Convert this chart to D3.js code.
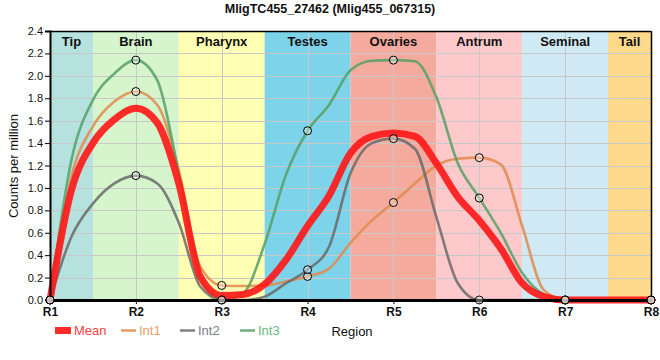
<!DOCTYPE html>
<html><head><meta charset="utf-8">
<script src="https://cdn.jsdelivr.net/npm/d3@7"></script>
<style>body{margin:0;background:#fff;}svg{display:block;font-family:"Liberation Sans",Arial,sans-serif;}</style>
</head><body>
<svg id="c" width="660" height="360"></svg>
<script>
// Data
const regions = ["R1","R2","R3","R4","R5","R6","R7","R8"];
const bands = ["Tip","Brain","Pharynx","Testes","Ovaries","Antrum","Seminal","Tail"];
const bandColors = ["#b5e2de","#d6f5cd","#ffffb4","#7dd3ea","#f4aa9c","#fdc9cb","#cfeaf4","#fdd98b"];
const yTicks = [0,0.2,0.4,0.6,0.8,1.0,1.2,1.4,1.6,1.8,2.0,2.2,2.4];
// curve positions (region index; readings between regions)
const positions = [0,0.25,0.5,0.75,1,1.25,1.5,1.75,2,2.25,2.5,2.75,3,3.25,3.5,3.75,4,4.25,4.5,4.75,5,5.25,5.5,5.75,6,6.5,7];
const int1 = [0,1.10,1.55,1.77,1.86,1.74,1.16,0.30,0.13,0.125,0.13,0.165,0.21,0.28,0.51,0.71,0.87,1.04,1.20,1.26,1.27,1.21,0.66,0.09,0,0,0];
const int2 = [0,0.565,0.86,1.04,1.11,1.04,0.69,0.12,0,0,0.03,0.15,0.27,0.475,1.13,1.40,1.44,1.35,0.74,0.15,0,0,0,0,0,0,0];
const int3 = [0,1.25,1.785,2.02,2.14,1.96,1.13,0.21,0,0.06,0.50,1.12,1.51,1.74,2.05,2.135,2.14,2.13,1.81,1.22,0.91,0.60,0.24,0.05,0,0,0];
const mean = [0,0.98,1.40,1.61,1.71,1.58,1.04,0.21,0.04,0.05,0.14,0.36,0.66,0.93,1.31,1.46,1.49,1.46,1.22,0.92,0.71,0.46,0.15,0.03,0,0,0];
const seriesNames = ["Int1","Int2","Int3","Mean"];
const seriesColors = {Int1:"#e08a4c",Int2:"#6a6a6a",Int3:"#56a066",Mean:"#ff1a1a"};

const svg = d3.select("#c");
const L=50,R=651,T=31,B=300;
const x = d3.scaleLinear().domain([0,regions.length-1]).range([L,R]);
const y = d3.scaleLinear().domain([0,2.4]).range([B,T]);

// bands
const bg = svg.append("g");
bands.forEach((b,i)=>{
  const x0 = Math.max(0,i-0.5), x1 = Math.min(regions.length-1,i+0.5);
  bg.append("rect").attr("x",x(x0)).attr("y",T).attr("width",x(x1)-x(x0)).attr("height",B-T).attr("fill",bandColors[i]);
});
// grid
const grid = svg.append("g").attr("stroke","#c8c8c8").attr("stroke-width",1);
yTicks.forEach(t=>grid.append("line").attr("x1",L).attr("x2",R).attr("y1",Math.round(y(t))+0.5).attr("y2",Math.round(y(t))+0.5));
regions.forEach((r,i)=>grid.append("line").attr("x1",Math.round(x(i))+0.5).attr("x2",Math.round(x(i))+0.5).attr("y1",T).attr("y2",B));
// band labels
bands.forEach((b,i)=>{
  const x0 = Math.max(0,i-0.5), x1 = Math.min(regions.length-1,i+0.5);
  svg.append("text").attr("x",(x(x0)+x(x1))/2).attr("y",46).attr("text-anchor","middle")
    .attr("font-size",13).attr("font-weight","bold").attr("fill","#111").text(b);
});
// lines
const data = {Int1:int1,Int2:int2,Int3:int3,Mean:mean};
const line = d3.line().x((d,i)=>x(positions[i])).y(d=>y(d)).curve(d3.curveMonotoneX);
const lg = svg.append("g").attr("fill","none");
seriesNames.forEach(s=>{
  lg.append("path").attr("d",line(data[s])).attr("stroke",seriesColors[s])
    .attr("stroke-width",s==="Mean"?7:2.6).attr("stroke-opacity",s==="Mean"?0.92:0.85)
    .attr("stroke-linejoin","round").attr("stroke-linecap","round");
});
// axes
const yAxis = svg.append("g").attr("transform",`translate(${L},0)`).call(d3.axisLeft(y).tickValues(yTicks).tickFormat(d3.format(".1f")).tickSize(5).tickPadding(2));
yAxis.select(".domain").attr("stroke","#000").attr("stroke-width",2);
yAxis.selectAll("text").attr("font-size",11).attr("fill","#111").attr("font-family","Liberation Sans, Arial, sans-serif");
const xAxis = svg.append("g").attr("transform",`translate(0,${B})`).call(d3.axisBottom(x).tickValues(d3.range(regions.length)).tickFormat(i=>regions[i]).tickSize(4).tickSizeOuter(0).tickPadding(3));
xAxis.select(".domain").attr("stroke","#000").attr("stroke-width",3);
xAxis.selectAll("text").attr("font-size",12).attr("font-weight","bold").attr("fill","#111").attr("font-family","Liberation Sans, Arial, sans-serif");
// frame top/right
svg.append("line").attr("x1",L).attr("x2",R).attr("y1",T+0.5).attr("y2",T+0.5).attr("stroke","#000").attr("stroke-width",1.5);
svg.append("line").attr("x1",R+0.5).attr("x2",R+0.5).attr("y1",T).attr("y2",B).attr("stroke","#000").attr("stroke-width",1.5);
// markers at region points
const mk = svg.append("g");
["Int1","Int2","Int3"].forEach(s=>{
  positions.forEach((p,i)=>{
    if(Number.isInteger(p)){
      mk.append("circle").attr("cx",x(p)).attr("cy",y(data[s][i])).attr("r",4)
        .attr("fill","#fff").attr("fill-opacity",0.35).attr("stroke","#000").attr("stroke-width",1);
    }
  });
});
// title
svg.append("text").attr("x",330).attr("y",13).attr("text-anchor","middle").attr("font-size",12.5).attr("font-weight","bold").attr("fill","#111").text("MligTC455_27462 (Mlig455_067315)");
// y label
svg.append("text").attr("transform","translate(18,166) rotate(-90)").attr("text-anchor","middle").attr("font-size",13).attr("fill","#111").text("Counts per million");
// legend
const legItems = [{s:"Mean",x:55},{s:"Int1",x:121},{s:"Int2",x:180},{s:"Int3",x:240}];
const legColors = {Mean:"#ff4040",Int1:"#e8a06a",Int2:"#7d7d8a",Int3:"#6ab57c"};
legItems.forEach(it=>{
  if(it.s==="Mean") svg.append("rect").attr("x",it.x).attr("y",327).attr("width",16).attr("height",7).attr("fill","#ff2a2a");
  else svg.append("line").attr("x1",it.x).attr("x2",it.x+15).attr("y1",330.5).attr("y2",330.5).attr("stroke",seriesColors[it.s]).attr("stroke-width",2.5).attr("stroke-opacity",0.85);
  svg.append("text").attr("x",it.x+(it.s==="Mean"?19:18)).attr("y",335).attr("font-size",13).attr("fill",legColors[it.s]).text(it.s);
});
svg.append("text").attr("x",352).attr("y",336).attr("text-anchor","middle").attr("font-size",13).attr("fill","#111").text("Region");
</script>
</body></html>
